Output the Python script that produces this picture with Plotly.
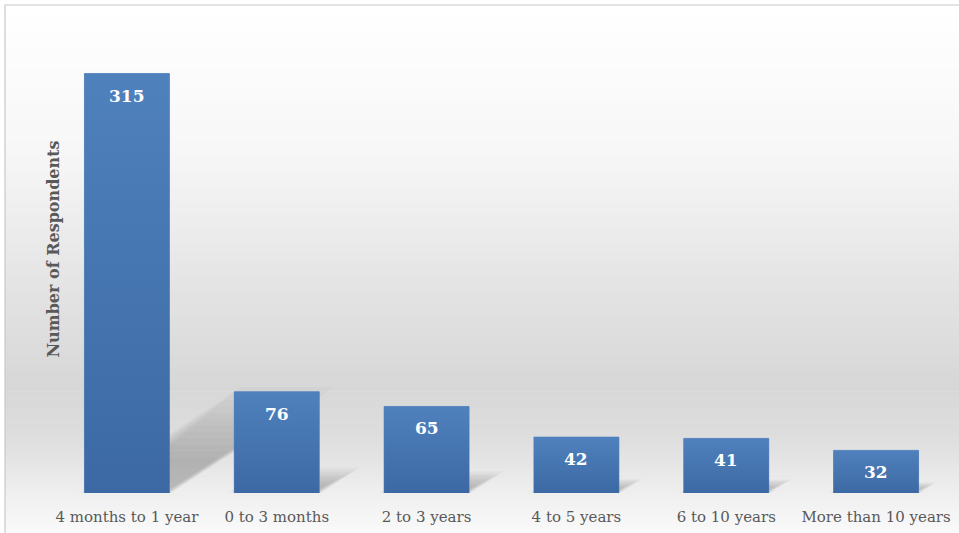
import plotly.graph_objects as go

categories = ["4 months to 1 year", "0 to 3 months", "2 to 3 years",
              "4 to 5 years", "6 to 10 years", "More than 10 years"]
respondents = [315, 76, 65, 42, 41, 32]
y_title = "Number of Respondents"

W, H = 959, 533
ML, MR, MT, MB = 52, 8, 27, 40
PW, PH = W - ML - MR, H - MT - MB
Y_MAX = 350

def px_x(p):
    return (p - ML) / PW

def px_y(p):
    return (H - MB - p) / PH

fig = go.Figure()

# background gradient (decoration) in paper coords
shapes = []
stops = [(5, 255), (150, 247), (300, 226), (385, 215), (440, 222), (490, 238), (533, 250)]
def gray_at(y):
    for (y0, g0), (y1, g1) in zip(stops[:-1], stops[1:]):
        if y0 <= y <= y1:
            t = (y - y0) / (y1 - y0)
            return g0 + (g1 - g0) * t
    return stops[-1][1]
N = 110
top, bot = 5, 536
step = (bot - top) / N
for k in range(N):
    y0 = top + k * step
    y1 = y0 + step + 0.6
    g = int(round(gray_at(y0 + step / 2)))
    shapes.append(dict(type="rect", xref="paper", yref="paper",
                       x0=px_x(5), x1=px_x(962), y0=px_y(y1), y1=px_y(y0),
                       fillcolor=f"rgb({g},{g},{g})", line=dict(width=0), layer="below"))
shapes.append(dict(type="rect", xref="paper", yref="paper",
                   x0=px_x(5), x1=px_x(962), y0=px_y(540), y1=px_y(5),
                   fillcolor="rgba(0,0,0,0)", line=dict(color="#c8c8c8", width=1.2), layer="below"))

# soft perspective shadows derived from values (drawn below the bars)
xs = list(range(len(categories)))
BAR_W = 0.567
half = BAR_W / 2
px_per_unit = PH / Y_MAX
cat_px = PW / len(categories)
SLOPE = 0.65
layers = []
for k in range(12):
    t = k / 11
    layers.append((1.2 - 0.8 * t, -0.04 + 0.16 * t, 0.022))
for i, v in zip(xs, respondents):
    hs = 0.21 * v
    d = hs * px_per_unit / SLOPE / cat_px
    for scale, inset, op in layers:
        h = hs * scale
        dd = d * scale
        l = i - half + inset
        r = i + half - inset * 0.3
        path = f"M {l},0 L {r},0 L {r + dd},{h} L {l + dd},{h} Z"
        shapes.append(dict(type="path", xref="x", yref="y", path=path,
                           fillcolor=f"rgba(50,50,50,{op})", line=dict(width=0), layer="below"))

fig.add_trace(go.Bar(
    x=xs, y=respondents, width=BAR_W,
    marker=dict(color="#4576B1", line=dict(color="#5a86c0", width=0.8)),
    showlegend=False, hoverinfo="skip"))

# vertical gradient sheen on each bar, same footprint as the bar
for i, v in zip(xs, respondents):
    fig.add_trace(go.Scatter(
        x=[i - half, i + half, i + half, i - half, i - half],
        y=[0, 0, v, v, 0], mode="lines", fill="toself", line=dict(width=0),
        fillcolor="#4576B1",
        fillgradient=dict(type="vertical",
                          colorscale=[[0, "#3C69A3"], [1, "#4F81BD"]]),
        hoverinfo="skip", showlegend=False))

annotations = []
for i, v in zip(xs, respondents):
    annotations.append(dict(x=i, y=v, xref="x", yref="y", text=f"<b>{v}</b>",
                            showarrow=False, yanchor="middle", yshift=-22,
                            font=dict(family="DejaVu Serif", size=17, color="white")))
annotations.append(dict(x=px_x(42), y=px_y(249), xref="paper", yref="paper",
                        text=f"<b>{y_title}</b>", textangle=-90, showarrow=False,
                        font=dict(family="DejaVu Serif", size=16, color="#595959")))

fig.update_layout(
    width=W, height=H,
    margin=dict(l=ML, r=MR, t=MT, b=MB, autoexpand=False),
    paper_bgcolor="white", plot_bgcolor="rgba(0,0,0,0)",
    shapes=shapes, annotations=annotations,
    bargap=0.43,
    xaxis=dict(tickmode="array", tickvals=xs, ticktext=categories, automargin=False,
               range=[-0.5, len(categories) - 0.5], showgrid=False, zeroline=False,
               showline=False, ticks="outside", ticklen=10, tickcolor="rgba(0,0,0,0)",
               tickfont=dict(family="DejaVu Serif", size=15, color="#595959")),
    yaxis=dict(range=[0, Y_MAX], showgrid=False, zeroline=False, showline=False,
               showticklabels=False, ticks="", automargin=False),
)

fig.write_html("out.html", config={"displayModeBar": False},
               post_script="document.body.style.margin='0';document.body.style.overflow='hidden';")
